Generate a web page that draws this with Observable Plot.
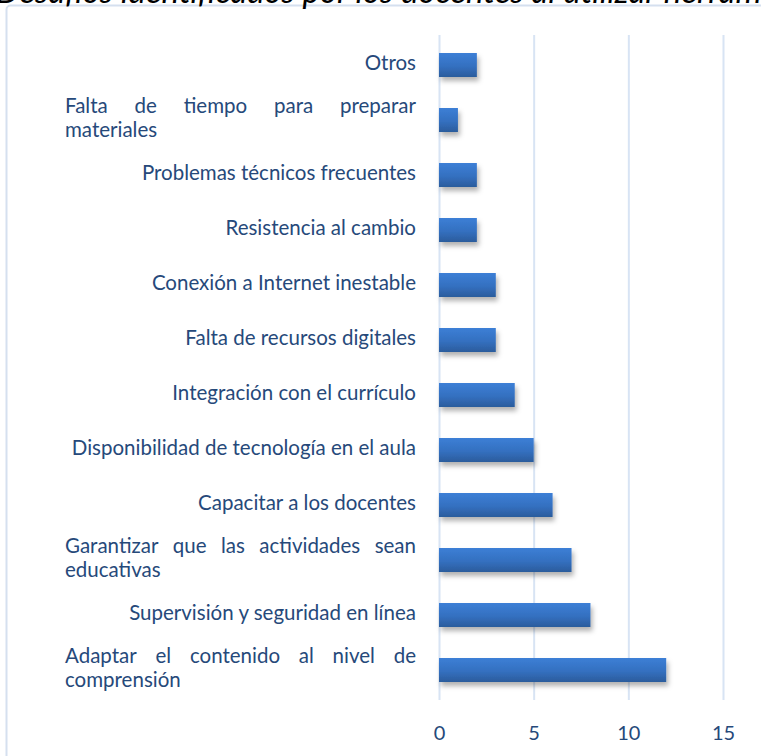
<!DOCTYPE html>
<html>
<head>
<meta charset="utf-8">
<script src="https://cdn.jsdelivr.net/npm/d3@7"></script>
<script src="https://cdn.jsdelivr.net/npm/@observablehq/plot@0.6"></script>
<style>
  html, body { margin: 0; padding: 0; background: #fff; overflow: hidden; }
  #chart { position: relative; width: 761px; height: 756px; }
</style>
</head>
<body>
<div id="chart"></div>
<script>
const title = "Desafíos identificados por los docentes al utilizar herramientas";
const categories = [
  "Otros",
  "Falta de tiempo para preparar materiales",
  "Problemas técnicos frecuentes",
  "Resistencia al cambio",
  "Conexión a Internet inestable",
  "Falta de recursos digitales",
  "Integración con el currículo",
  "Disponibilidad de tecnología en el aula",
  "Capacitar a los docentes",
  "Garantizar que las actividades sean educativas",
  "Supervisión y seguridad en línea",
  "Adaptar el contenido al nivel de comprensión"
];
const values = [2, 1, 2, 2, 3, 3, 4, 5, 6, 7, 8, 12];
const xTicks = [0, 5, 10, 15];

const data = categories.map((c, i) => ({category: c, value: values[i]}));

const textColor = "#26497a";
const font = "Lato, 'Open Sans', sans-serif";

const plot = Plot.plot({
  width: 761,
  height: 756,
  marginLeft: 439,
  marginRight: 38,
  marginTop: 35,
  marginBottom: 56,
  style: {fontFamily: font, background: "#fff", overflow: "visible"},
  x: {domain: [0, 15], ticks: xTicks},
  y: {domain: categories, paddingInner: 0.57, paddingOuter: 0.285, axis: null},
  marks: [
    () => {
      const ns = "http://www.w3.org/2000/svg";
      const defs = document.createElementNS(ns, "defs");
      defs.innerHTML = `
        <linearGradient id="barGrad" x1="0" y1="0" x2="0" y2="1">
          <stop offset="0%" stop-color="#3c7fd6"/>
          <stop offset="55%" stop-color="#3470c0"/>
          <stop offset="100%" stop-color="#2b5c9c"/>
        </linearGradient>
        <filter id="barShadow" x="-10%" y="-40%" width="130%" height="200%">
          <feDropShadow dx="2" dy="4" stdDeviation="2.5" flood-color="#000" flood-opacity="0.3"/>
        </filter>`;
      return defs;
    },
    Plot.gridX(xTicks, {stroke: "#d8e4f4", strokeOpacity: 1, strokeWidth: 2}),
    Plot.barX(data, {x: "value", y: "category", fill: "url(#barGrad)"}),
    Plot.axisX(xTicks, {tickSize: 0, tickPadding: 25, fontSize: 20, fill: textColor, color: textColor, label: null})
  ]
});

document.getElementById("chart").appendChild(plot);

const svg = d3.select(plot);
svg.select("g[aria-label='bar']").attr("filter", "url(#barShadow)");

// border frame
svg.insert("rect", ":first-child")
  .attr("x", 6.5).attr("y", 5.5)
  .attr("width", 800).attr("height", 800)
  .attr("rx", 4)
  .attr("fill", "none")
  .attr("stroke", "#d5e0ef")
  .attr("stroke-width", 2);

// title (clipped at top)
svg.append("text")
  .attr("x", -4).attr("y", 2.5)
  .attr("text-anchor", "start")
  .attr("font-family", font)
  .attr("font-style", "italic")
  .attr("font-size", 33)
  .attr("fill", "#000")
  .text(title);

// category labels with wrapping & justification
const yScale = plot.scale("y");
const bw = yScale.bandwidth;
const labelLeft = 65, labelRight = 416, fontSize = 20.5, lineH = 23.5;
const g = svg.append("g")
  .attr("font-family", font)
  .attr("font-size", fontSize)
  .attr("text-anchor", "start")
  .attr("fill", textColor);

const measure = g.append("text").attr("visibility", "hidden");
function w(s) { measure.text(s); return measure.node().getComputedTextLength(); }

categories.forEach(cat => {
  const cy = yScale.apply(cat) + bw / 2;
  const words = cat.split(" ");
  const lines = [];
  let cur = [];
  words.forEach(word => {
    const test = cur.concat([word]).join(" ");
    if (cur.length && w(test) > labelRight - labelLeft) { lines.push(cur); cur = [word]; }
    else cur.push(word);
  });
  if (cur.length) lines.push(cur);
  const n = lines.length;
  const off = n === 1 ? 5 : 5;
  lines.forEach((ln, i) => {
    const base = cy + off + (i - (n - 1) / 2) * lineH;
    if (n === 1) {
      g.append("text").attr("x", labelRight).attr("y", base).attr("text-anchor", "end").text(ln.join(" "));
    } else if (i < n - 1 && ln.length > 1) {
      const widths = ln.map(s => w(s));
      const total = d3.sum(widths);
      const gap = (labelRight - labelLeft - total) / (ln.length - 1);
      let x = labelLeft;
      ln.forEach((word, k) => {
        g.append("text").attr("x", x).attr("y", base).text(word);
        x += widths[k] + gap;
      });
    } else {
      g.append("text").attr("x", labelLeft).attr("y", base).text(ln.join(" "));
    }
  });
});
measure.remove();
</script>
</body>
</html>
